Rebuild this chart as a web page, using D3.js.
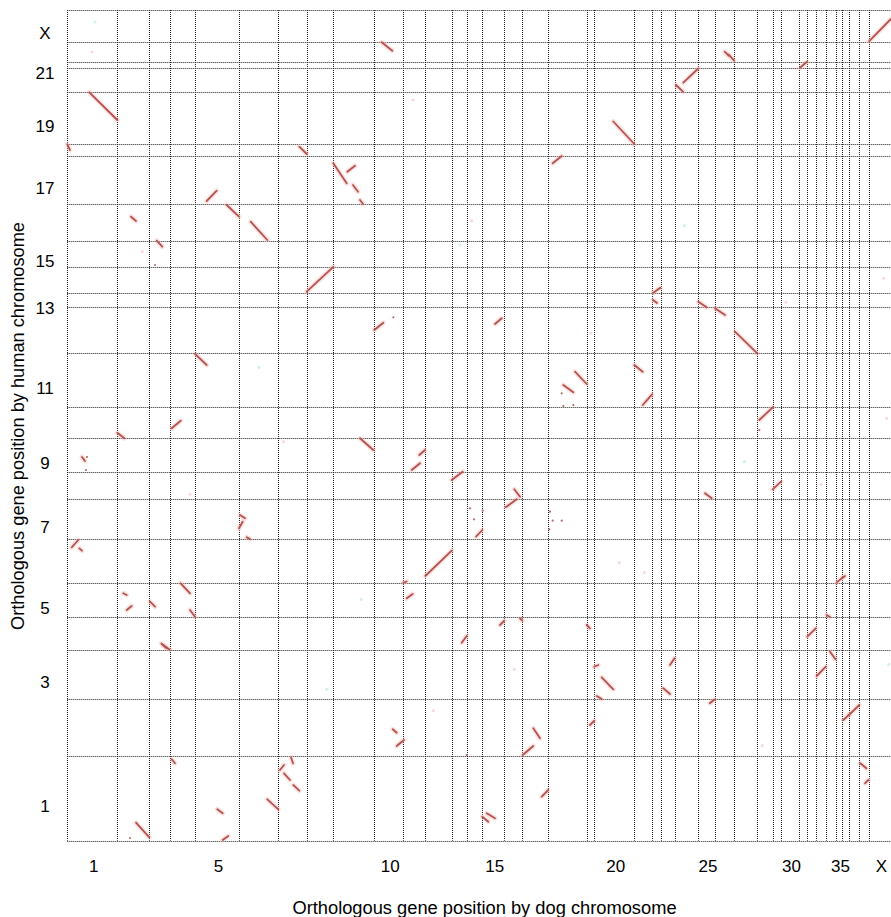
<!DOCTYPE html>
<html>
<head>
<meta charset="utf-8">
<script src="https://cdn.jsdelivr.net/npm/d3@7"></script>
<style>
  body { margin: 0; background: #fff; }
  svg { display: block; }
  text { font-family: "Liberation Sans", Arial, sans-serif; fill: #000; }
</style>
</head>
<body>
<svg id="chart" width="891" height="917"></svg>
<script>
// dog chromosomes along x, relative size (ortholog count, arbitrary units)
const dogChroms = d3.range(1, 39).map(String).concat(['X']);
const dogSizes = [50, 32, 20.7, 25, 44, 39.3, 28.4, 26.6, 41, 29, 22, 26.4, 15, 15.6, 22, 18, 26, 38.4, 7.6, 40,
  18, 8.4, 14, 23.6, 16.4, 19.6, 23, 15.4, 8.3, 18, 8.3, 8.7, 10, 9.7, 6.6, 7, 10, 9.4, 22.3];
const dogTickLabels = ['1', '5', '10', '15', '20', '25', '30', '35', 'X'];

// human chromosomes along y
const humanChroms = d3.range(1, 23).map(String).concat(['X']);
const humanSizes = [85, 56.4, 49.3, 32.7, 34.6, 43.4, 40, 27.6, 33.4, 31, 54, 46, 14, 26.6, 26, 36.4, 48.6, 11.4,
  52, 24, 6.6, 20, 31.7];
const humanTickLabels = ['1', '3', '5', '7', '9', '11', '13', '15', '17', '19', '21', 'X'];

// conserved blocks: [dog chr, dog from, dog to, human chr, human from, human to]
const blocks = [
  ['X', 0.5, 22, 'X', 0.5, 22.5],
  ['10', 7.4, 18, '22', 19.5, 11],
  ['26', 10, 14, '22', 10, 6],
  ['26', 14, 19.5, '22', 7, 1],
  ['31', 1, 8, '21', 0.5, 6.5],
  ['24', 8.6, 23.6, '20', 9.6, 23.8],
  ['24', 1.3, 8.3, '20', 7.3, 0.6],
  ['1', 22, 50, '19', 52, 24.3],
  ['1', 0, 2.7, '18', 11.4, 5.7],
  ['7', 21, 28.4, '18', 9, 1.7],
  ['9', 0, 13.4, '17', 41, 21],
  ['9', 14, 21.7, '17', 32.6, 38.6],
  ['9', 19.7, 24.7, '17', 19.3, 12.6],
  ['9', 26.7, 29.7, '17', 4.3, 0.3],
  ['18', 4.4, 13.4, '17', 41, 48.3],
  ['20', 19, 40, '19', 22.8, 0.3],
  ['5', 11.7, 21.7, '17', 3.3, 13.6],
  ['5', 31.7, 44, '16', 35.7, 24],
  ['6', 11.7, 28.3, '16', 19, 0.7],
  ['2', 13.7, 18.7, '16', 24, 19.7],
  ['3', 7.4, 13, '15', 26, 20],
  ['8', 0, 26.6, '14', 1.6, 26.5],
  ['22', 0.7, 4.7, '13', 7.3, 4.3],
  ['22', 1, 8, '14', 0.5, 5.5],
  ['5', 0, 11.7, '11', 53.5, 42.3],
  ['4', 1.7, 10.7, '10', 10, 17.6],
  ['2', 0, 7, '10', 5.6, 0],
  ['1', 14.7, 17.7, '9', 14.7, 10.7],
  ['6', 1, 6, '7', 24.3, 21],
  ['6', 0, 3.7, '7', 11, 17.6],
  ['6', 7.7, 11, '7', 2, 0.2],
  ['1', 4.4, 11, '6', 35.4, 42.7],
  ['1', 12, 14.7, '6', 34.4, 32],
  ['4', 10.7, 20, '5', 34, 24],
  ['2', 6, 9.4, '5', 24, 22.3],
  ['2', 9.4, 14.4, '5', 7.3, 11.3],
  ['3', 0.7, 5.7, '5', 15.6, 10.6],
  ['4', 20, 25, '5', 7.3, 0.6],
  ['3', 12, 17, '4', 6.5, 2],
  ['3', 14, 20, '4', 5, 0.5],
  ['4', 1.7, 5, '1', 81.4, 77.4],
  ['7', 1.7, 5.7, '1', 70.7, 75.7],
  ['7', 5.7, 11.7, '1', 67.4, 60.7],
  ['7', 15, 21, '1', 55.7, 50],
  ['7', 12.7, 14.7, '1', 83.4, 77.4],
  ['6', 28.3, 39.3, '1', 41.4, 31.4],
  ['5', 22.3, 27.7, '1', 31.4, 27.4],
  ['5', 27.7, 33.3, '1', 0.7, 4.7],
  ['2', 18.7, 32, '1', 18, 3.4],
  ['15', 17.7, 22, '4', 25, 29.3],
  ['16', 15.7, 18, '4', 31.7, 29.3],
  ['13', 10, 15, '4', 7.3, 14],
  ['19', 0, 3.3, '4', 25, 21.7],
  ['20', 0, 4, '3', 32.6, 34.3],
  ['20', 7.4, 19, '3', 22, 10],
  ['20', 2.4, 7.4, '3', 3.3, 0.2],
  ['19', 3.3, 7.6, '2', 30.7, 35],
  ['10', 18.4, 22.4, '2', 26.4, 23],
  ['10', 22.4, 29.7, '2', 9.7, 15.7],
  ['17', 11, 17.7, '2', 27.4, 17.4],
  ['17', 0.4, 11, '2', 0.7, 9.7],
  ['17', 19.4, 26, '1', 44, 50.7],
  ['15', 0, 6, '1', 24, 19],
  ['15', 4.4, 12.7, '1', 27.4, 22.4],
  ['23', 9.3, 13.8, '3', 34.3, 41],
  ['23', 2.6, 9.3, '3', 11, 5.3],
  ['25', 11.5, 16, '2', 52.4, 56],
  ['32', 0, 8.5, '4', 13.3, 21.7],
  ['34', 0.7, 4, '5', 2.3, 0.2],
  ['34', 4, 9.5, '3', 47.6, 40],
  ['33', 0.7, 9.8, '3', 23.3, 32.6],
  ['36', 1, 7, '2', 35.7, 41],
  ['37', 0, 10, '2', 41, 50.7],
  ['38', 1, 7, '1', 77.4, 72.4],
  ['38', 5.7, 9, '1', 57.4, 60.7],
  ['25', 6.7, 13.4, '8', 6, 1],
  ['29', 0, 8.3, '8', 10, 17.6],
  ['28', 2, 15.4, '10', 18.3, 31],
  ['27', 0.7, 23, '12', 21.6, 0],
  ['25', 0, 8.4, '13', 5.6, 0],
  ['26', 0.3, 10.3, '12', 45, 38.3],
  ['21', 0, 8.4, '11', 42.3, 35.6],
  ['21', 8.4, 17.8, '11', 2.3, 13],
  ['18', 26.7, 38.4, '11', 35.6, 23.3],
  ['18', 15, 25, '11', 22.3, 15],
  ['9', 26.7, 40, '9', 33.4, 21.7],
  ['11', 8.4, 16.7, '9', 1.7, 8.4],
  ['11', 16, 21.7, '9', 16.7, 21.7],
  ['13', 0, 11, '8', 19.3, 27.6],
  ['16', 1.4, 12.4, '7', 32, 40],
  ['16', 10, 15.7, '8', 10, 2.6],
  ['14', 9.3, 15.6, '7', 2.6, 9.3],
  ['12', 0, 26.4, '6', 6.7, 32],
  ['11', 0, 3.4, '6', 0, 1.2],
  ['11', 3.4, 9.4, '5', 19, 23.3],
  ['35', 1, 6.6, '6', 0.3, 4.8],
  ['36', 0, 2.7, '6', 4.8, 6.7],
  ['10', 0, 9, '12', 23.3, 30.6],
  ['15', 12.7, 19.4, '12', 29.3, 35]
];

// isolated orthologs: [dog chr, dog pos, human chr, human pos]
const singles = [
  ['18', 13.4, '11', 14], ['18', 15, '11', 1.3], ['18', 25, '11', 2.3],
  ['1', 19.7, '9', 14.7], ['1', 18.7, '9', 1.7],
  ['14', 3.3, '7', 31], ['14', 7.3, '7', 20], ['15', 0.4, '7', 28.6],
  ['10', 19, '12', 36], ['28', 2, '10', 8.3], ['2', 12.7, '1', 2.7],
  ['3', 5.7, '15', 1.7], ['13', 15, '2', 0.7],
  ['18', 1.7, '7', 27.6], ['18', 4.4, '7', 18.6], ['18', 13.4, '7', 18.6], ['18', 1, '7', 10]
];

// faint background hits
const faint = [
  ['1', 27.7, 'X', 19.7], ['1', 24.7, '22', 9.7], ['11', 9.7, '19', 44.3], ['13', 8.3, '15', 21.7],
  ['7', 5, '9', 30], ['4', 20, '8', 5], ['9', 28, '5', 18], ['16', 10, '3', 30], ['20', 25, '6', 20],
  ['27', 10, '9', 10], ['30', 5, '13', 5], ['X', 18, '10', 20], ['X', 20, '3', 35], ['X', 15, '14', 15],
  ['2', 25, '15', 15], ['6', 20, '11', 40], ['12', 8, '2', 45], ['19', 4, '12', 20], ['24', 10, '16', 15],
  ['28', 5, '2', 10], ['33', 5, '8', 15], ['8', 20, '3', 10], ['14', 5, '16', 20], ['21', 10, '6', 10]
];

const svg = d3.select('#chart');
const plotLeft = 67.3, plotRight = 891, plotTop = 10, plotBottom = 840.7;

const dogStart = [0].concat(Array.from(d3.cumsum(dogSizes)));
const humanStart = [0].concat(Array.from(d3.cumsum(humanSizes)));
const dogIdx = new Map(dogChroms.map((c, i) => [c, i]));
const humanIdx = new Map(humanChroms.map((c, i) => [c, i]));

const x = d3.scaleLinear().domain([0, d3.sum(dogSizes)]).range([plotLeft, plotRight]);
const y = d3.scaleLinear().domain([0, d3.sum(humanSizes)]).range([plotBottom, plotTop]);

const gx = (c, p) => x(dogStart[dogIdx.get(c)] + p);
const gy = (c, p) => y(humanStart[humanIdx.get(c)] + p);
const crisp = v => Math.round(v) + 0.5;

// ========= Grid =========
const grid = svg.append('g').attr('class', 'grid')
  .attr('stroke', '#222').attr('stroke-width', 1).attr('stroke-dasharray', '1,1');

grid.selectAll('.vline')
  .data(dogStart.slice(0, -1))
  .enter()
  .append('line')
  .attr('x1', d => crisp(x(d))).attr('x2', d => crisp(x(d)))
  .attr('y1', plotTop).attr('y2', plotBottom);

grid.selectAll('.hline')
  .data(humanStart)
  .enter()
  .append('line')
  .attr('y1', d => crisp(y(d))).attr('y2', d => crisp(y(d)))
  .attr('x1', plotLeft).attr('x2', plotRight);

// ========= Hits =========
const hits = svg.append('g').attr('class', 'hits').attr('stroke-linecap', 'round');

hits.selectAll('.faint')
  .data(faint)
  .enter()
  .append('circle')
  .attr('cx', d => gx(d[0], d[1])).attr('cy', d => gy(d[2], d[3]))
  .attr('r', 1.6)
  .attr('fill', (d, i) => i % 3 === 0 ? '#d6eeee' : '#f6dcdc');

const seg = d => ({x1: gx(d[0], d[1]), x2: gx(d[0], d[2]), y1: gy(d[3], d[4]), y2: gy(d[3], d[5])});

hits.selectAll('.halo')
  .data(blocks)
  .enter()
  .append('line')
  .attr('x1', d => seg(d).x1).attr('x2', d => seg(d).x2)
  .attr('y1', d => seg(d).y1).attr('y2', d => seg(d).y2)
  .attr('stroke', '#f3b4ae').attr('stroke-width', 5).attr('opacity', 0.35);

hits.selectAll('.core')
  .data(blocks)
  .enter()
  .append('line')
  .attr('x1', d => seg(d).x1).attr('x2', d => seg(d).x2)
  .attr('y1', d => seg(d).y1).attr('y2', d => seg(d).y2)
  .attr('stroke', '#b5524f').attr('stroke-width', 1.8);

hits.selectAll('.single')
  .data(singles)
  .enter()
  .append('circle')
  .attr('cx', d => gx(d[0], d[1])).attr('cy', d => gy(d[2], d[3]))
  .attr('r', 1.1)
  .attr('fill', '#b86a68');

// ========= Labels =========
svg.append('g').selectAll('text')
  .data(dogTickLabels)
  .enter()
  .append('text')
  .attr('x', d => gx(d, dogSizes[dogIdx.get(d)] / 2) + 1.5)
  .attr('y', 866)
  .attr('text-anchor', 'middle')
  .attr('dominant-baseline', 'central')
  .attr('font-size', 17)
  .text(d => d);

svg.append('g').selectAll('text')
  .data(humanTickLabels)
  .enter()
  .append('text')
  .attr('x', 45)
  .attr('y', d => gy(d, humanSizes[humanIdx.get(d)] / 2) + 8)
  .attr('text-anchor', 'middle')
  .attr('dominant-baseline', 'central')
  .attr('font-size', 17)
  .text(d => d);

svg.append('text')
  .attr('x', 484.5).attr('y', 907)
  .attr('text-anchor', 'middle')
  .attr('dominant-baseline', 'central')
  .attr('font-size', 18.3)
  .text('Orthologous gene position by dog chromosome');

svg.append('text')
  .attr('transform', 'translate(18,426) rotate(-90)')
  .attr('text-anchor', 'middle')
  .attr('dominant-baseline', 'central')
  .attr('font-size', 18)
  .attr('textLength', 408)
  .attr('lengthAdjust', 'spacingAndGlyphs')
  .text('Orthologous gene position by human chromosome');
</script>
</body>
</html>
